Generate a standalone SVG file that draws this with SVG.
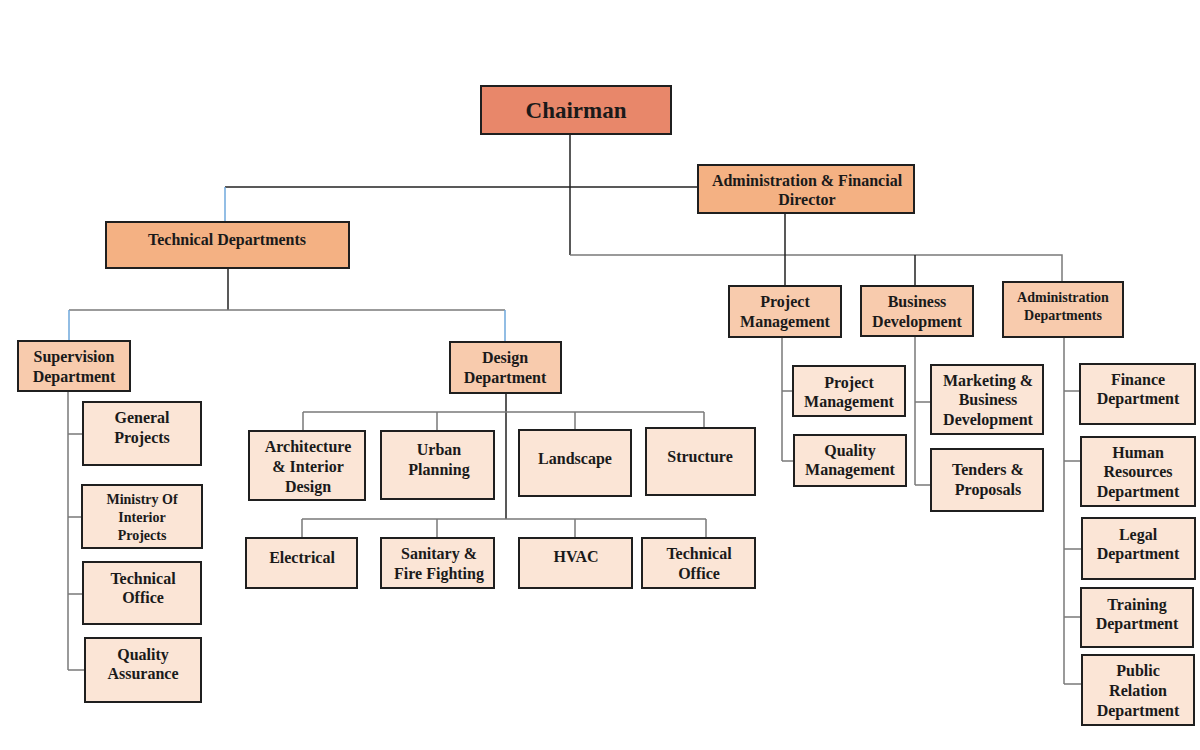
<svg xmlns="http://www.w3.org/2000/svg" width="1200" height="750" viewBox="0 0 1200 750">
<style>
.b{stroke:#1f1f1f;stroke-width:2}
.c0{fill:#E8876A}.c1{fill:#F4B183}.c2{fill:#F8CBAD}.c3{fill:#FBE5D6}
text{font-family:'Liberation Serif','DejaVu Serif',serif;font-weight:700;font-size:16px;fill:#1a1a1a;text-anchor:middle}
.s{font-size:14px}
.big{font-size:23px}
#conn path{fill:none;stroke:#7a7a7a;stroke-width:1.5}
#conn .k{stroke:#222}
#conn .bl{stroke:#6fa8dc}
</style>
<rect width="1200" height="750" fill="#fff"/>
<g id="conn">
<path class="k" d="M570 134V255"/>
<path d="M570 255H1062V282"/>
<path class="k" d="M915 255V286"/>
<path class="k" d="M225 187H698"/>
<path class="bl" d="M225 187V222"/>
<path class="k" d="M785 213V286"/>
<path class="k" d="M228 268V310"/>
<path d="M69 310H505"/>
<path class="bl" d="M69 310V341M505 310V342"/>
<path d="M68 391V670M68 434H83M68 517H82M68 594H83M68 670H85"/>
<path class="k" d="M506 393V519"/>
<path d="M303 412H704M303 412V431M437 412V431M575 412V430M704 412V428"/>
<path d="M302 519H706M302 519V538M437 519V538M575 519V538M706 519V538"/>
<path d="M782 337V461M782 391H793M782 461H794"/>
<path d="M915 336V485M915 402H931M915 485H931"/>
<path d="M1064 337V684M1064 391H1080M1064 461H1081M1064 549H1082M1064 617H1081M1064 684H1082"/>
</g>
<g font-family="Liberation Serif, DejaVu Serif, serif">
<g id="chairman"><rect class="b c0" x="481" y="86" width="190" height="48"/><text class="big" x="576" y="118">Chairman</text></g>
<g id="admin-fin"><rect class="b c1" x="698" y="165" width="216" height="48"/><text x="807" y="186">Administration &amp; Financial</text><text x="807" y="205">Director</text></g>
<g id="technical"><rect class="b c1" x="106" y="222" width="243" height="46"/><text x="227" y="245">Technical Departments</text></g>
<g id="supervision"><rect class="b c2" x="18" y="341" width="112" height="50"/><text x="74" y="362">Supervision</text><text x="74" y="382">Department</text></g>
<g id="design"><rect class="b c2" x="450" y="342" width="111" height="51"/><text x="505" y="363">Design</text><text x="505" y="383">Department</text></g>
<g id="project-mgmt"><rect class="b c2" x="729" y="286" width="112" height="51"/><text x="785" y="307">Project</text><text x="785" y="327">Management</text></g>
<g id="business-dev"><rect class="b c2" x="861" y="286" width="112" height="50"/><text x="917" y="307">Business</text><text x="917" y="327">Development</text></g>
<g id="admin-depts"><rect class="b c2" x="1003" y="282" width="120" height="55"/><text class="s" x="1063" y="302">Administration</text><text class="s" x="1063" y="320">Departments</text></g>
<g id="general-projects"><rect class="b c3" x="83" y="402" width="118" height="63"/><text x="142" y="423">General</text><text x="142" y="443">Projects</text></g>
<g id="ministry"><rect class="b c3" x="82" y="485" width="120" height="63"/><text class="s" x="142" y="504">Ministry Of</text><text class="s" x="142" y="522">Interior</text><text class="s" x="142" y="540">Projects</text></g>
<g id="sup-tech-office"><rect class="b c3" x="83" y="562" width="118" height="62"/><text x="143" y="584">Technical</text><text x="143" y="603">Office</text></g>
<g id="quality-assurance"><rect class="b c3" x="85" y="638" width="116" height="64"/><text x="143" y="660">Quality</text><text x="143" y="679">Assurance</text></g>
<g id="architecture"><rect class="b c3" x="249" y="431" width="116" height="69"/><text x="308" y="452">Architecture</text><text x="308" y="472">&amp; Interior</text><text x="308" y="492">Design</text></g>
<g id="urban"><rect class="b c3" x="381" y="431" width="113" height="68"/><text x="439" y="455">Urban</text><text x="439" y="475">Planning</text></g>
<g id="landscape"><rect class="b c3" x="519" y="430" width="112" height="66"/><text x="575" y="464">Landscape</text></g>
<g id="structure"><rect class="b c3" x="646" y="428" width="109" height="67"/><text x="700" y="462">Structure</text></g>
<g id="electrical"><rect class="b c3" x="246" y="538" width="111" height="50"/><text x="302" y="563">Electrical</text></g>
<g id="sanitary"><rect class="b c3" x="381" y="538" width="113" height="50"/><text x="439" y="559">Sanitary &amp;</text><text x="439" y="579">Fire Fighting</text></g>
<g id="hvac"><rect class="b c3" x="519" y="538" width="113" height="50"/><text x="576" y="562">HVAC</text></g>
<g id="des-tech-office"><rect class="b c3" x="642" y="538" width="113" height="50"/><text x="699" y="559">Technical</text><text x="699" y="579">Office</text></g>
<g id="pm-child"><rect class="b c3" x="793" y="366" width="112" height="50"/><text x="849" y="388">Project</text><text x="849" y="407">Management</text></g>
<g id="quality-mgmt"><rect class="b c3" x="794" y="435" width="112" height="51"/><text x="850" y="456">Quality</text><text x="850" y="475">Management</text></g>
<g id="marketing"><rect class="b c3" x="931" y="365" width="112" height="69"/><text x="988" y="386">Marketing &amp;</text><text x="988" y="405">Business</text><text x="988" y="425">Development</text></g>
<g id="tenders"><rect class="b c3" x="931" y="449" width="112" height="62"/><text x="988" y="475">Tenders &amp;</text><text x="988" y="495">Proposals</text></g>
<g id="finance"><rect class="b c3" x="1080" y="364" width="115" height="60"/><text x="1138" y="385">Finance</text><text x="1138" y="404">Department</text></g>
<g id="hr"><rect class="b c3" x="1081" y="437" width="114" height="69"/><text x="1138" y="458">Human</text><text x="1138" y="477">Resources</text><text x="1138" y="497">Department</text></g>
<g id="legal"><rect class="b c3" x="1082" y="518" width="113" height="61"/><text x="1138" y="540">Legal</text><text x="1138" y="559">Department</text></g>
<g id="training"><rect class="b c3" x="1081" y="588" width="112" height="59"/><text x="1137" y="610">Training</text><text x="1137" y="629">Department</text></g>
<g id="public-relation"><rect class="b c3" x="1082" y="655" width="112" height="70"/><text x="1138" y="676">Public</text><text x="1138" y="696">Relation</text><text x="1138" y="716">Department</text></g>
</g>
</svg>
